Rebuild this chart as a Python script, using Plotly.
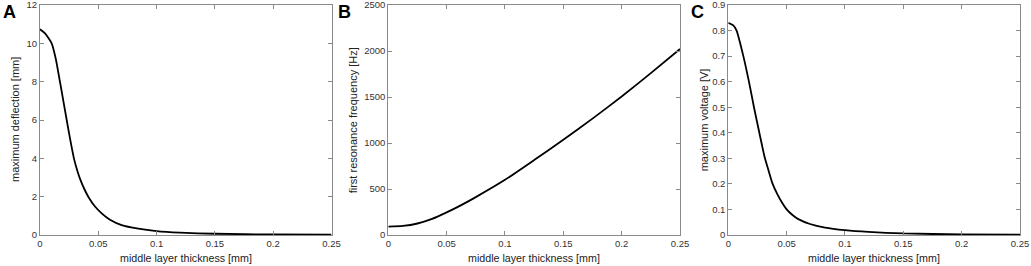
import plotly.graph_objects as go

# Panel A: maximum deflection [mm]
xa = [0, 0.0043, 0.01, 0.0135, 0.0171, 0.02, 0.0229, 0.026, 0.0291, 0.032, 0.035, 0.038, 0.0414,
      0.047, 0.0529, 0.06, 0.07, 0.0843, 0.1, 0.12, 0.15, 0.2, 0.25]
ya = [10.73, 10.52, 10.0, 9.2, 8.0, 7.0, 6.0, 4.95, 4.0, 3.35, 2.82, 2.4, 2.0,
      1.5, 1.13, 0.8, 0.52, 0.33, 0.2, 0.12, 0.065, 0.025, 0.012]

# Panel B: first resonance frequency [Hz]
xb = [0, 0.0125, 0.025, 0.0375, 0.05, 0.0625, 0.075, 0.1, 0.125, 0.15, 0.175, 0.2, 0.225, 0.25]
yb = [90, 98, 125, 175, 246, 325, 412, 600, 815, 1035, 1265, 1505, 1760, 2022]

# Panel C: maximum voltage [V]
xc = [0, 0.0043, 0.0071, 0.0129, 0.0177, 0.022, 0.0266, 0.0314, 0.034, 0.038, 0.042, 0.046, 0.05,
      0.055, 0.06, 0.07, 0.0829, 0.1, 0.12, 0.15, 0.2, 0.25]
yc = [0.83, 0.82, 0.8, 0.7, 0.6, 0.5, 0.4, 0.3, 0.26, 0.2, 0.16, 0.127, 0.1,
      0.078, 0.062, 0.043, 0.029, 0.019, 0.012, 0.006, 0.0025, 0.0012]

x_ticks = [0, 0.05, 0.1, 0.15, 0.2, 0.25]
x_ticklabels = ["0", "0.05", "0.1", "0.15", "0.2", "0.25"]
ya_ticks = [0, 2, 4, 6, 8, 10, 12]
yb_ticks = [0, 500, 1000, 1500, 2000, 2500]
yc_ticks = [0, 0.1, 0.2, 0.3, 0.4, 0.5, 0.6, 0.7, 0.8, 0.9]

x_title = "middle layer thickness [mm]"
y_titles = ["maximum deflection [mm]", "first resonance frequency [Hz]", "maximum voltage [V]"]
panel_letters = ["A", "B", "C"]

W, H = 1031, 266
x_domains = [(40, 331.5), (388.3, 680), (728.3, 1020)]
ytitle_offsets = [25, 35, 24]
letter_left = [1, 336, 689]
y_top, y_bot = 5, 235
ydom = [1 - y_bot / H, 1 - y_top / H]

fig = go.Figure()
data = [(xa, ya), (xb, yb), (xc, yc)]
for i, (xs, ys) in enumerate(data):
    suffix = "" if i == 0 else str(i + 1)
    fig.add_trace(go.Scatter(x=xs, y=ys, mode="lines",
                             line=dict(color="black", width=1.8, shape="spline", smoothing=0.5),
                             xaxis="x" + suffix, yaxis="y" + suffix, showlegend=False, hoverinfo="skip"))

FONT = "Liberation Sans, Arial, sans-serif"
font_tick = dict(family=FONT, size=9.5, color="#333")
axis_common = dict(showgrid=False, zeroline=False, showline=True, linecolor="#8a8a8a", linewidth=1,
                   mirror="ticks", ticks="inside", ticklen=4, tickcolor="#8a8a8a", tickfont=font_tick,
                   automargin=False, ticklabeloverflow="allow")

yranges = [(0, 12), (0, 2500), (0, 0.9)]
yticks = [ya_ticks, yb_ticks, yc_ticks]
ytickt = [[str(v) for v in ya_ticks], [str(v) for v in yb_ticks], ["0"] + [str(v) for v in yc_ticks[1:]]]

layout = dict(width=W, height=H, margin=dict(l=0, r=0, t=0, b=0), plot_bgcolor="white", paper_bgcolor="white")
annotations = []
for i in range(3):
    suffix = "" if i == 0 else str(i + 1)
    x0, x1 = x_domains[i]
    layout["xaxis" + suffix] = dict(domain=[x0 / W, x1 / W], range=[0, 0.25], tickvals=x_ticks, ticktext=x_ticklabels,
                                    anchor="y" + suffix, **axis_common)
    layout["yaxis" + suffix] = dict(domain=ydom, range=list(yranges[i]), tickvals=yticks[i], ticktext=ytickt[i],
                                    anchor="x" + suffix, **axis_common)
    annotations.append(dict(text=x_title, x=(x0 + x1) / 2 / W, y=1 - 258 / H, xref="paper", yref="paper",
                            showarrow=False, xanchor="center", yanchor="middle",
                            font=dict(family=FONT, size=10.7, color="#222")))
    annotations.append(dict(text=y_titles[i], x=(x0 - ytitle_offsets[i]) / W, y=(ydom[0] + ydom[1]) / 2,
                            xref="paper", yref="paper", showarrow=False, textangle=-90,
                            xanchor="center", yanchor="middle",
                            font=dict(family=FONT, size=11, color="#222")))
    annotations.append(dict(text="<b>" + panel_letters[i] + "</b>", x=letter_left[i] / W, y=1 - 12 / H,
                            xref="paper", yref="paper", showarrow=False, xanchor="left", yanchor="middle",
                            font=dict(family=FONT, size=18, color="black")))

layout["annotations"] = annotations
fig.update_layout(**layout)
fig.write_html("out.html", config={"responsive": False, "displayModeBar": False},
               post_script="document.body.style.margin='0';document.body.style.overflow='hidden';")
